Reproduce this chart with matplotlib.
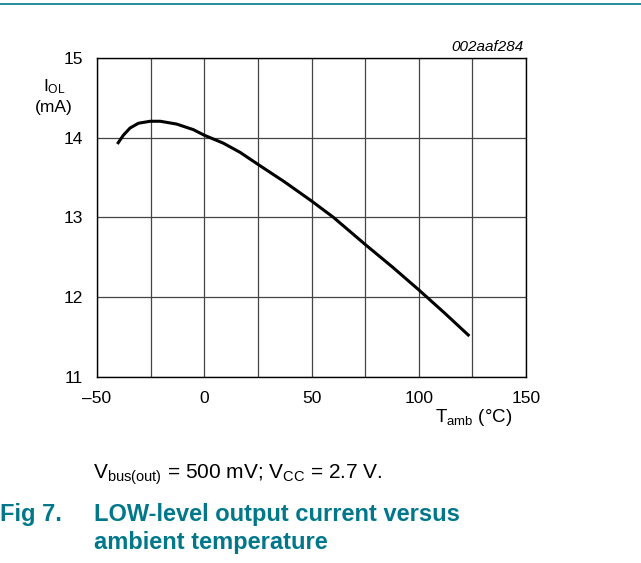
import matplotlib
matplotlib.use('Agg')
import matplotlib.pyplot as plt

plt.rcParams['font.family'] = ['Liberation Sans', 'DejaVu Sans']
plt.rcParams['mathtext.fontset'] = 'custom'
plt.rcParams['mathtext.rm'] = 'Liberation Sans'
plt.rcParams['mathtext.it'] = 'Liberation Sans:italic'
plt.rcParams['mathtext.bf'] = 'Liberation Sans:bold'

# curve
temp_c = [-40.5, -37.7, -34.6, -30.7, -25.2, -20.5, -12.9, -5.1, 0.0, 8.9, 16.7,
          25.0, 37.4, 50.0, 60.2, 75.0, 88.0, 100.0, 112.0, 123.6]
iol_ma = [13.92, 14.03, 14.12, 14.18, 14.205, 14.205, 14.17, 14.10, 14.03, 13.93, 13.815,
          13.665, 13.445, 13.205, 13.00, 12.66, 12.37, 12.09, 11.80, 11.51]

x_ticks = [-50, 0, 50, 100, 150]
x_labels = ['\u201350', '0', '50', '100', '150']
y_ticks = [11, 12, 13, 14, 15]
teal = '#00788a'

fig = plt.figure(figsize=(6.41, 5.63), dpi=100)
ax = fig.add_axes([97/641, 1 - 376.7/563, 429/641, 318.8/563])

ax.plot(temp_c, iol_ma, color='black', lw=2.2, solid_capstyle='butt', solid_joinstyle='round')
ax.set_xlim(-50, 150)
ax.set_ylim(11, 15)
ax.set_xticks(x_ticks)
ax.set_xticklabels(x_labels)
ax.set_yticks(y_ticks)
ax.set_xticks(range(-50, 151, 25), minor=True)
ax.grid(True, which='both', color='#444444', lw=0.9)
ax.tick_params(which='both', length=0, labelsize=12.5, pad=10)
for s in ax.spines.values():
    s.set_linewidth(1.0)
    s.set_color('black')

fig.text(54/641, 1 - 87/563, r'I$_{\mathrm{OL}}$', fontsize=12.5, ha='center', va='center')
fig.text(54/641, 1 - 108/563, '(mA)', fontsize=12.5, ha='center', va='center')
fig.text(512/641, 1 - 417/563, r'T$_{\mathrm{amb}}$ ($\degree$C)', fontsize=13.5, ha='right', va='center')
fig.text(524/641, 1 - 47/563, '002aaf284', fontsize=11, style='italic', ha='right', va='center')

fig.text(93/641, 1 - 475/563, r'V$_{\mathrm{bus(out)}}$ = 500 mV; V$_{\mathrm{CC}}$ = 2.7 V.',
         fontsize=15, ha='left', va='center')
fig.text(0, 1 - 514/563, 'Fig 7.', fontsize=17, weight='bold', color=teal, ha='left', va='center')
fig.text(94/641, 1 - 514/563, 'LOW-level output current versus', fontsize=17, weight='bold',
         color=teal, ha='left', va='center')
fig.text(94/641, 1 - 543/563, 'ambient temperature', fontsize=17, weight='bold',
         color=teal, ha='left', va='center')

fig.add_artist(plt.Line2D([0, 1], [1 - 4.3/563, 1 - 4.3/563], color=teal, lw=1.2))

fig.savefig('out.png', dpi=100)
